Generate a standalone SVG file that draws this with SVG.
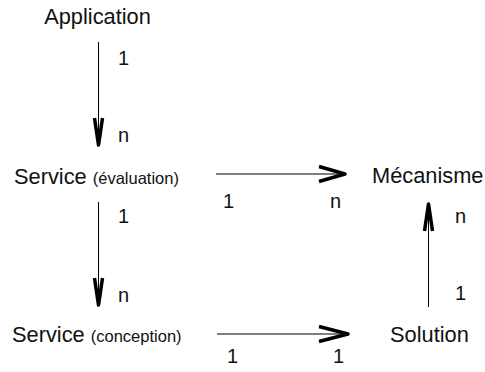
<svg xmlns="http://www.w3.org/2000/svg" width="485" height="372" viewBox="0 0 485 372">
<style>
text{font-family:"Liberation Sans",Arial,sans-serif;fill:#111}
.n{font-size:21.8px}
.s{font-size:16.5px}
.l{font-size:20px}
.line{stroke:#000;stroke-width:1;fill:none}
.head{stroke:#000;stroke-width:3.5;fill:none;stroke-linejoin:round;stroke-linecap:butt}
</style>
<rect width="485" height="372" fill="#fff"/>
<g id="connectors">
<g id="e1">
<line class="line" x1="98.5" y1="42" x2="98.5" y2="140"/>
<polyline class="head" points="94.5,118 98.5,145 102.5,118"/>
<text class="l" x="118" y="65">1</text>
<text class="l" x="118" y="142">n</text>
</g>
<g id="e2">
<line class="line" x1="98.5" y1="202" x2="98.5" y2="300"/>
<polyline class="head" points="94.5,278 98.5,305 102.5,278"/>
<text class="l" x="118" y="223">1</text>
<text class="l" x="118" y="302">n</text>
</g>
<g id="e3">
<line class="line" x1="216" y1="174" x2="340" y2="174"/>
<polyline class="head" points="319,166.5 345,174 319,181.5"/>
<text class="l" x="223" y="208">1</text>
<text class="l" x="330" y="208">n</text>
</g>
<g id="e4">
<line class="line" x1="217" y1="334" x2="343" y2="334"/>
<polyline class="head" points="319,326.5 348,334 319,341.5"/>
<text class="l" x="227" y="363">1</text>
<text class="l" x="333" y="363">1</text>
</g>
<g id="e5">
<line class="line" x1="428.5" y1="307" x2="428.5" y2="208"/>
<polyline class="head" points="424.5,231 428.5,204 432.5,231"/>
<text class="l" x="455" y="223">n</text>
<text class="l" x="455" y="300">1</text>
</g>
</g>
<g id="application"><text class="n" x="97.5" y="24" text-anchor="middle">Application</text></g>
<g id="service-evaluation"><text class="n" x="14" y="184">Service <tspan class="s">(évaluation)</tspan></text></g>
<g id="mecanisme"><text class="n" x="372" y="183">Mécanisme</text></g>
<g id="service-conception"><text class="n" x="12" y="342">Service <tspan class="s">(conception)</tspan></text></g>
<g id="solution"><text class="n" x="390" y="342">Solution</text></g>
</svg>
